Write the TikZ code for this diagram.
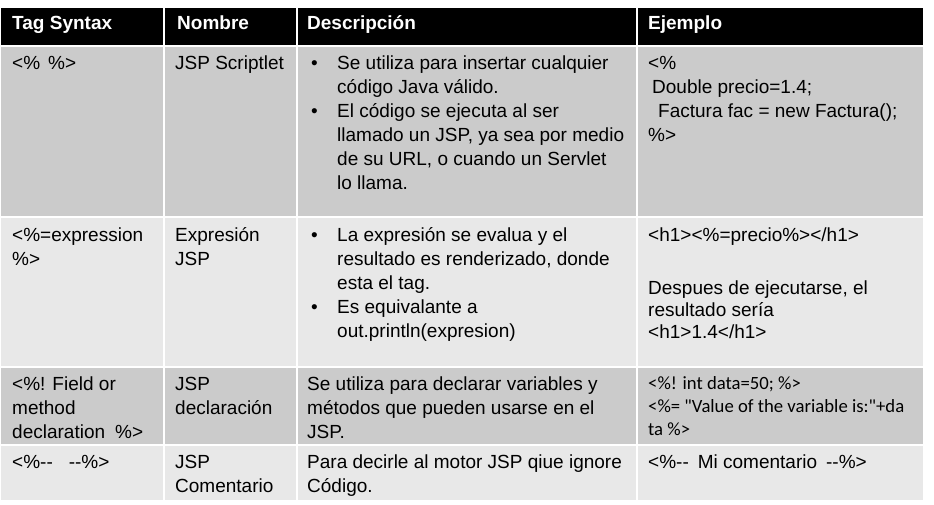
\documentclass[tikz,border=0pt]{standalone}
\font\jspreg="Liberation Sans" at 19pt
\font\jspbold="Liberation Sans/B" at 19pt
\font\jspcal="Carlito" at 18.7pt
\definecolor{rowdark}{HTML}{CBCBCB}
\definecolor{rowlight}{HTML}{E8E8E8}
\newcommand\bulitem{\makebox[26pt][l]{•}}
\newcommand\bulcont{\hspace*{26pt}}
\newcommand\regA{\jspreg\baselineskip=24pt\relax}
\newcommand\regB{\jspreg\baselineskip=22pt\relax}
\newcommand\calA{\jspcal\baselineskip=23pt\relax}
\newcommand\celllines[1]{\vtop{\let\\\cr\halign{##\hfil\cr#1\crcr}}}
\tikzset{
  headtext/.style={anchor=base west, inner sep=0pt, text=white, font=\jspbold},
  celltext/.style={anchor=base west, inner sep=0pt, font=\regA},
  cellsep/.style={draw=white, line width=2pt},
}
\begin{document}
\begin{tikzpicture}[x=1pt,y=-1pt]
\useasboundingbox (0,0) rectangle (934,505);
% row backgrounds
\fill[black]    (1,8)     rectangle (923,45.5);
\fill[rowdark]  (1,47.5)  rectangle (923,216.5);
\fill[rowlight] (1,218.5) rectangle (923,365.5);
\fill[rowdark]  (1,367.5) rectangle (923,443.5);
\fill[rowlight] (1,445.5) rectangle (923,500);
% column separators
\draw[cellsep] (164,8) -- (164,500);
\draw[cellsep] (297,8) -- (297,500);
\draw[cellsep] (637,8) -- (637,500);
% header
\node[headtext] (h1) at (12,30) {Tag Syntax};
\node[headtext] (h2) at (177,30) {Nombre};
\node[headtext] (h3) at (307,30) {Descripción};
\node[headtext] (h4) at (648,30) {Ejemplo};
% row 1
\node[celltext] (c11) at (12,70) {<\%\hspace{8pt}\%>};
\node[celltext] (c12) at (175,70) {JSP Scriptlet};
\node[celltext] (c13) at (311,70) {\celllines{\bulitem Se utiliza para insertar cualquier\\
\bulcont código Java válido.\\
\bulitem El código se ejecuta al ser\\
\bulcont llamado un JSP, ya sea por medio\\
\bulcont de su URL, o cuando un Servlet\\
\bulcont lo llama.}};
\node[celltext] (c14) at (648,70) {\celllines{<\%\\
\hspace*{4pt}Double precio=1.4;\\
\hspace*{10pt}Factura fac = new Factura();\\
\%>}};
% row 2
\node[celltext] (c21) at (12,241) {\celllines{<\%=expression\\\%>}};
\node[celltext] (c22) at (175,241) {\celllines{Expresión\\JSP}};
\node[celltext] (c23) at (311,241) {\celllines{\bulitem La expresión se evalua y el\\
\bulcont resultado es renderizado, donde\\
\bulcont esta el tag.\\
\bulitem Es equivalante a\\
\bulcont out.println(expresion)}};
\node[celltext, font=\regB] (c24) at (648,241) {\celllines{<h1><\%=precio\%></h1>\\
\noalign{\vskip31pt}
Despues de ejecutarse, el\\
resultado sería\\
<h1>1.4</h1>}};
% row 3
\node[celltext] (c31) at (12,390) {\celllines{<\%! Field or\\method\\declaration\hspace{10pt}\%>}};
\node[celltext] (c32) at (175,390) {\celllines{JSP\\declaración}};
\node[celltext] (c33) at (307,390) {\celllines{Se utiliza para declarar variables y\\métodos que pueden usarse en el\\JSP.}};
\node[celltext, font=\calA] (c34) at (648,389) {\celllines{<\%! int data=50; \%>\\<\%= "Value of the variable is:"+da\\ta \%>}};
% row 4
\node[celltext] (c41) at (12,468) {<\%--\hspace{16pt}--\%>};
\node[celltext] (c42) at (175,468) {\celllines{JSP\\Comentario}};
\node[celltext] (c43) at (307,468) {\celllines{Para decirle al motor JSP qiue ignore\\Código.}};
\node[celltext] (c44) at (648,468) {<\%--\hspace{9pt}Mi comentario\hspace{9pt}--\%>};
\end{tikzpicture}
\end{document}
